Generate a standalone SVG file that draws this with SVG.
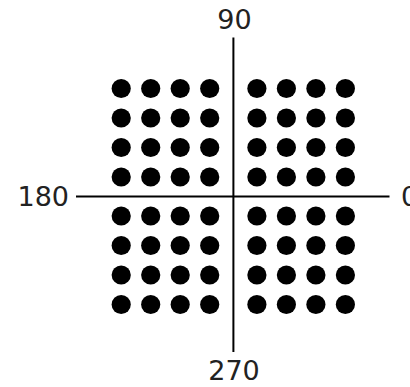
<svg xmlns="http://www.w3.org/2000/svg" width="410" height="387" viewBox="0 0 410 387">
<style>
.lbl{font-family:"DejaVu Sans",sans-serif;font-size:27px;fill:#222}
.ax{stroke:#000;stroke-width:2;fill:none}
.d{fill:#000}
</style>
<defs><circle id="dot" r="9.6" class="d"/></defs>
<rect width="410" height="387" fill="#fff"/>
<g id="connectors">
<line class="ax" x1="233.4" y1="37.5" x2="233.4" y2="352"/>
<line class="ax" x1="76" y1="196.6" x2="389.5" y2="196.6"/>
</g>
<g id="labels">
<text class="lbl" x="234.5" y="29" text-anchor="middle">90</text>
<text class="lbl" x="69" y="206" text-anchor="end">180</text>
<text class="lbl" x="401" y="206">0</text>
<text class="lbl" x="234" y="380" text-anchor="middle">270</text>
</g>
<g id="dots-q2">
<use href="#dot" x="121.2" y="88.5"/><use href="#dot" x="150.7" y="88.5"/><use href="#dot" x="180.2" y="88.5"/><use href="#dot" x="209.7" y="88.5"/>
<use href="#dot" x="121.2" y="118"/><use href="#dot" x="150.7" y="118"/><use href="#dot" x="180.2" y="118"/><use href="#dot" x="209.7" y="118"/>
<use href="#dot" x="121.2" y="147.5"/><use href="#dot" x="150.7" y="147.5"/><use href="#dot" x="180.2" y="147.5"/><use href="#dot" x="209.7" y="147.5"/>
<use href="#dot" x="121.2" y="177"/><use href="#dot" x="150.7" y="177"/><use href="#dot" x="180.2" y="177"/><use href="#dot" x="209.7" y="177"/>
</g>
<g id="dots-q1">
<use href="#dot" x="256.9" y="88.5"/><use href="#dot" x="286.4" y="88.5"/><use href="#dot" x="315.9" y="88.5"/><use href="#dot" x="345.4" y="88.5"/>
<use href="#dot" x="256.9" y="118"/><use href="#dot" x="286.4" y="118"/><use href="#dot" x="315.9" y="118"/><use href="#dot" x="345.4" y="118"/>
<use href="#dot" x="256.9" y="147.5"/><use href="#dot" x="286.4" y="147.5"/><use href="#dot" x="315.9" y="147.5"/><use href="#dot" x="345.4" y="147.5"/>
<use href="#dot" x="256.9" y="177"/><use href="#dot" x="286.4" y="177"/><use href="#dot" x="315.9" y="177"/><use href="#dot" x="345.4" y="177"/>
</g>
<g id="dots-q3">
<use href="#dot" x="121.2" y="216"/><use href="#dot" x="150.7" y="216"/><use href="#dot" x="180.2" y="216"/><use href="#dot" x="209.7" y="216"/>
<use href="#dot" x="121.2" y="245.5"/><use href="#dot" x="150.7" y="245.5"/><use href="#dot" x="180.2" y="245.5"/><use href="#dot" x="209.7" y="245.5"/>
<use href="#dot" x="121.2" y="275"/><use href="#dot" x="150.7" y="275"/><use href="#dot" x="180.2" y="275"/><use href="#dot" x="209.7" y="275"/>
<use href="#dot" x="121.2" y="304.5"/><use href="#dot" x="150.7" y="304.5"/><use href="#dot" x="180.2" y="304.5"/><use href="#dot" x="209.7" y="304.5"/>
</g>
<g id="dots-q4">
<use href="#dot" x="256.9" y="216"/><use href="#dot" x="286.4" y="216"/><use href="#dot" x="315.9" y="216"/><use href="#dot" x="345.4" y="216"/>
<use href="#dot" x="256.9" y="245.5"/><use href="#dot" x="286.4" y="245.5"/><use href="#dot" x="315.9" y="245.5"/><use href="#dot" x="345.4" y="245.5"/>
<use href="#dot" x="256.9" y="275"/><use href="#dot" x="286.4" y="275"/><use href="#dot" x="315.9" y="275"/><use href="#dot" x="345.4" y="275"/>
<use href="#dot" x="256.9" y="304.5"/><use href="#dot" x="286.4" y="304.5"/><use href="#dot" x="315.9" y="304.5"/><use href="#dot" x="345.4" y="304.5"/>
</g>
</svg>
